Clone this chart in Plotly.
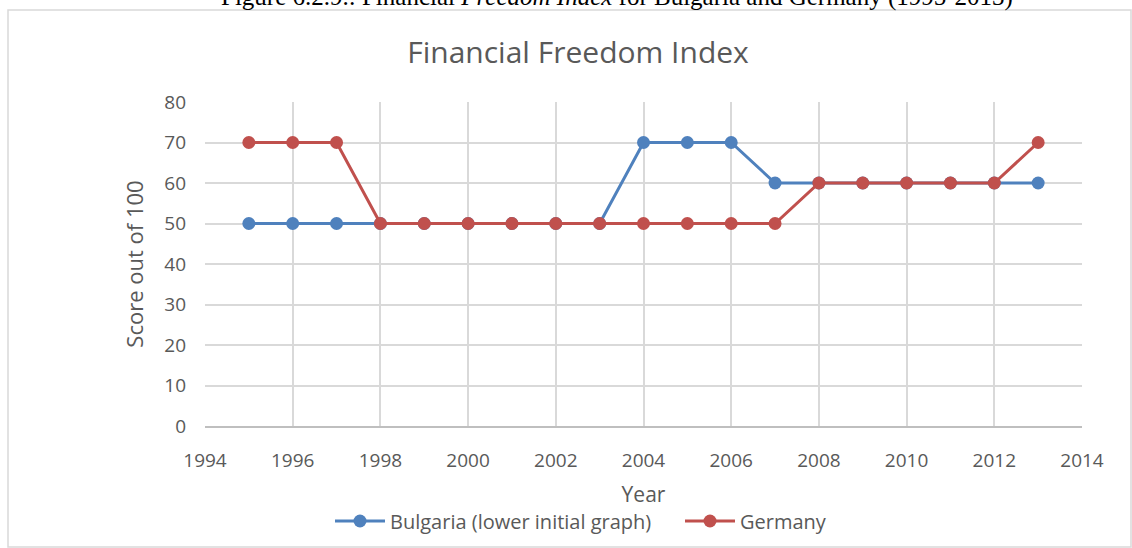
import plotly.graph_objects as go

years = list(range(1995, 2014))
bulgaria = [50, 50, 50, 50, 50, 50, 50, 50, 50, 70, 70, 70, 60, 60, 60, 60, 60, 60, 60]
germany = [70, 70, 70, 50, 50, 50, 50, 50, 50, 50, 50, 50, 50, 60, 60, 60, 60, 60, 70]
x_ticks = list(range(1994, 2015, 2))
y_ticks = list(range(0, 81, 10))

W, H = 1132, 548
L, R, T, B = 205, 50, 102, 122
pw, ph = W - L - R, H - T - B

def px(x):
    return (x - L) / pw

def py(y):
    return (H - B - y) / ph

grey = "#595959"
font = "Open Sans"

fig = go.Figure()
fig.add_trace(go.Scatter(
    x=years, y=bulgaria, name="Bulgaria (lower initial graph)",
    mode="lines+markers",
    line=dict(color="#4F81BD", width=3),
    marker=dict(color="#4F81BD", size=13),
))
fig.add_trace(go.Scatter(
    x=years, y=germany, name="Germany",
    mode="lines+markers",
    line=dict(color="#C0504D", width=3),
    marker=dict(color="#C0504D", size=13),
))

fig.update_layout(
    width=W, height=H,
    margin=dict(l=L, r=R, t=T, b=B, autoexpand=False),
    paper_bgcolor="white", plot_bgcolor="white",
    font=dict(family=font, color=grey, size=19),
    showlegend=True,
    legend=dict(
        orientation="h", x=px(330), xanchor="left",
        y=py(521), yanchor="middle",
        font=dict(size=20, color=grey),
        itemwidth=50, entrywidth=285,
    ),
    title=dict(
        text="Financial Freedom Index", xref="container", x=578 / W, xanchor="center",
        y=1 - 52 / H, yanchor="middle",
        font=dict(size=30, color=grey),
    ),
)
fig.update_xaxes(
    range=[1994, 2014], tickvals=x_ticks, ticktext=[str(v) for v in x_ticks],
    showgrid=True, gridcolor="#D9D9D9", gridwidth=1.5,
    showline=True, linecolor="#BFBFBF", linewidth=1.5,
    zeroline=False, ticks="", ticklabelstandoff=16,
    title=dict(text="Year", standoff=16, font=dict(size=21, color=grey)),
)
fig.update_yaxes(
    range=[0, 80], tickvals=y_ticks,
    showgrid=True, gridcolor="#D9D9D9", gridwidth=1.5,
    showline=False, zeroline=False, ticks="", ticklabelstandoff=18,
    title=dict(text="Score out of 100", standoff=14, font=dict(size=22, color=grey)),
)

# chart frame
fig.add_shape(
    type="rect", xref="paper", yref="paper",
    x0=px(8), x1=px(1131), y0=py(547), y1=py(10),
    line=dict(color="#D9D9D9", width=1.5), fillcolor="rgba(0,0,0,0)",
    layer="below",
)
# caption (cut off at top of image, as in the source)
fig.add_annotation(
    xref="paper", yref="paper", x=px(617), y=py(-3), yanchor="middle",
    text="Figure 6.2.9.: Financial <i>Freedom Index</i> for Bulgaria and Germany (1995-2013)",
    showarrow=False, font=dict(family="Liberation Serif", size=25, color="#000000"),
)

fig.write_html(
    "out.html",
    config={"displayModeBar": False},
    post_script="document.body.style.margin='0';",
)
